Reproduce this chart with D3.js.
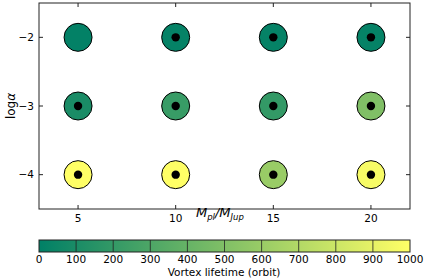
<!DOCTYPE html>
<html><head><meta charset="utf-8">
<script src="https://cdn.jsdelivr.net/npm/d3@7"></script>
<style>body{margin:0;background:#fff}svg{display:block}text{font-family:"DejaVu Sans",sans-serif}</style>
</head><body><svg id="c" width="436" height="280"></svg>
<script>
const masses = [5, 10, 15, 20];
const logAlpha = [-2, -3, -4];
// lifetime values [alpha row][mass col]
const lifetime = [
  [10, 20, 20, 20],
  [100, 220, 200, 500],
  [1000, 1000, 600, 970]
];
// whether a black dot marks the point
const hasDot = [
  [false, true, true, true],
  [true, true, true, true],
  [true, true, true, true]
];
const xTicks = [5, 10, 15, 20];
const yTicks = [-2, -3, -4];
const cbTicks = [0,100,200,300,400,500,600,700,800,900,1000];

const svg = d3.select("#c");
const L=39, R=410, T=3, B=209;
const x = d3.scaleLinear().domain([3,22]).range([L,R]);
const y = d3.scaleLinear().domain([-4.5,-1.5]).range([B,T]);
const summer = v => { const t = Math.max(0,Math.min(1,v/1000)); return d3.rgb(255*t, 255*(0.5+0.5*t), 102).toString(); };

// points
const pts = [];
logAlpha.forEach((a,i)=>masses.forEach((m,j)=>pts.push({m,a,v:lifetime[i][j],dot:hasDot[i][j]})));
svg.selectAll("circle.pt").data(pts).join("circle").attr("class","pt")
  .attr("cx",d=>x(d.m)).attr("cy",d=>y(d.a)).attr("r",14)
  .attr("fill",d=>summer(d.v)).attr("stroke","#000").attr("stroke-width",1);
svg.selectAll("circle.dot").data(pts.filter(d=>d.dot)).join("circle").attr("class","dot")
  .attr("cx",d=>x(d.m)).attr("cy",d=>y(d.a)).attr("r",4.2).attr("fill","#000");

// frame
svg.append("rect").attr("x",L).attr("y",T).attr("width",R-L).attr("height",B-T)
  .attr("fill","none").attr("stroke","#222").attr("stroke-width",1);
// ticks
const tl=4;
xTicks.forEach(t=>{
  svg.append("line").attr("x1",x(t)).attr("x2",x(t)).attr("y1",B).attr("y2",B-tl).attr("stroke","#222");
  svg.append("line").attr("x1",x(t)).attr("x2",x(t)).attr("y1",T).attr("y2",T+tl).attr("stroke","#222");
  svg.append("text").attr("x",x(t)).attr("y",B+13).attr("text-anchor","middle").attr("font-size",10.5).text(t);
});
yTicks.forEach(t=>{
  svg.append("line").attr("x1",L).attr("x2",L+tl).attr("y1",y(t)).attr("y2",y(t)).attr("stroke","#222");
  svg.append("line").attr("x1",R).attr("x2",R-tl).attr("y1",y(t)).attr("y2",y(t)).attr("stroke","#222");
  svg.append("text").attr("x",L-5).attr("y",y(t)).attr("dy","0.35em").attr("text-anchor","end").attr("font-size",10.5).text("\u2212"+Math.abs(t));
});
// axis labels
const xl = svg.append("text").attr("x",196).attr("y",217).attr("font-family","DejaVu Serif").attr("font-style","italic").attr("font-size",13);
xl.append("tspan").text("M");
xl.append("tspan").attr("font-size",8.5).attr("dy",3).text("pl");
xl.append("tspan").attr("dy",-3).text("/M");
xl.append("tspan").attr("font-size",8.5).attr("dy",3).text("Jup");
svg.append("text").attr("transform","translate(15,106) rotate(-90)").attr("text-anchor","middle")
  .attr("font-family","DejaVu Serif").attr("font-size",12).html("log<tspan font-style='italic'>α</tspan>");

// colorbar
const cbT=240, cbB=252;
const cx = d3.scaleLinear().domain([0,1000]).range([L,R]);
const defs = svg.append("defs");
const g = defs.append("linearGradient").attr("id","gr");
d3.range(0,1.0001,0.1).forEach(o=>g.append("stop").attr("offset",o).attr("stop-color",summer(o*1000)));
svg.append("rect").attr("x",L).attr("y",cbT).attr("width",R-L).attr("height",cbB-cbT).attr("fill","url(#gr)");
cbTicks.forEach(t=>{
  if(t>0&&t<1000) svg.append("line").attr("x1",cx(t)).attr("x2",cx(t)).attr("y1",cbT).attr("y2",cbB).attr("stroke","#222").attr("stroke-width",0.8);
  svg.append("text").attr("x",cx(t)).attr("y",cbB+11).attr("text-anchor","middle").attr("font-size",10.5).text(t);
});
svg.append("rect").attr("x",L).attr("y",cbT).attr("width",R-L).attr("height",cbB-cbT).attr("fill","none").attr("stroke","#222");
svg.append("text").attr("x",224).attr("y",276).attr("text-anchor","middle").attr("font-size",10.5).text("Vortex lifetime (orbit)");
</script></body></html>
